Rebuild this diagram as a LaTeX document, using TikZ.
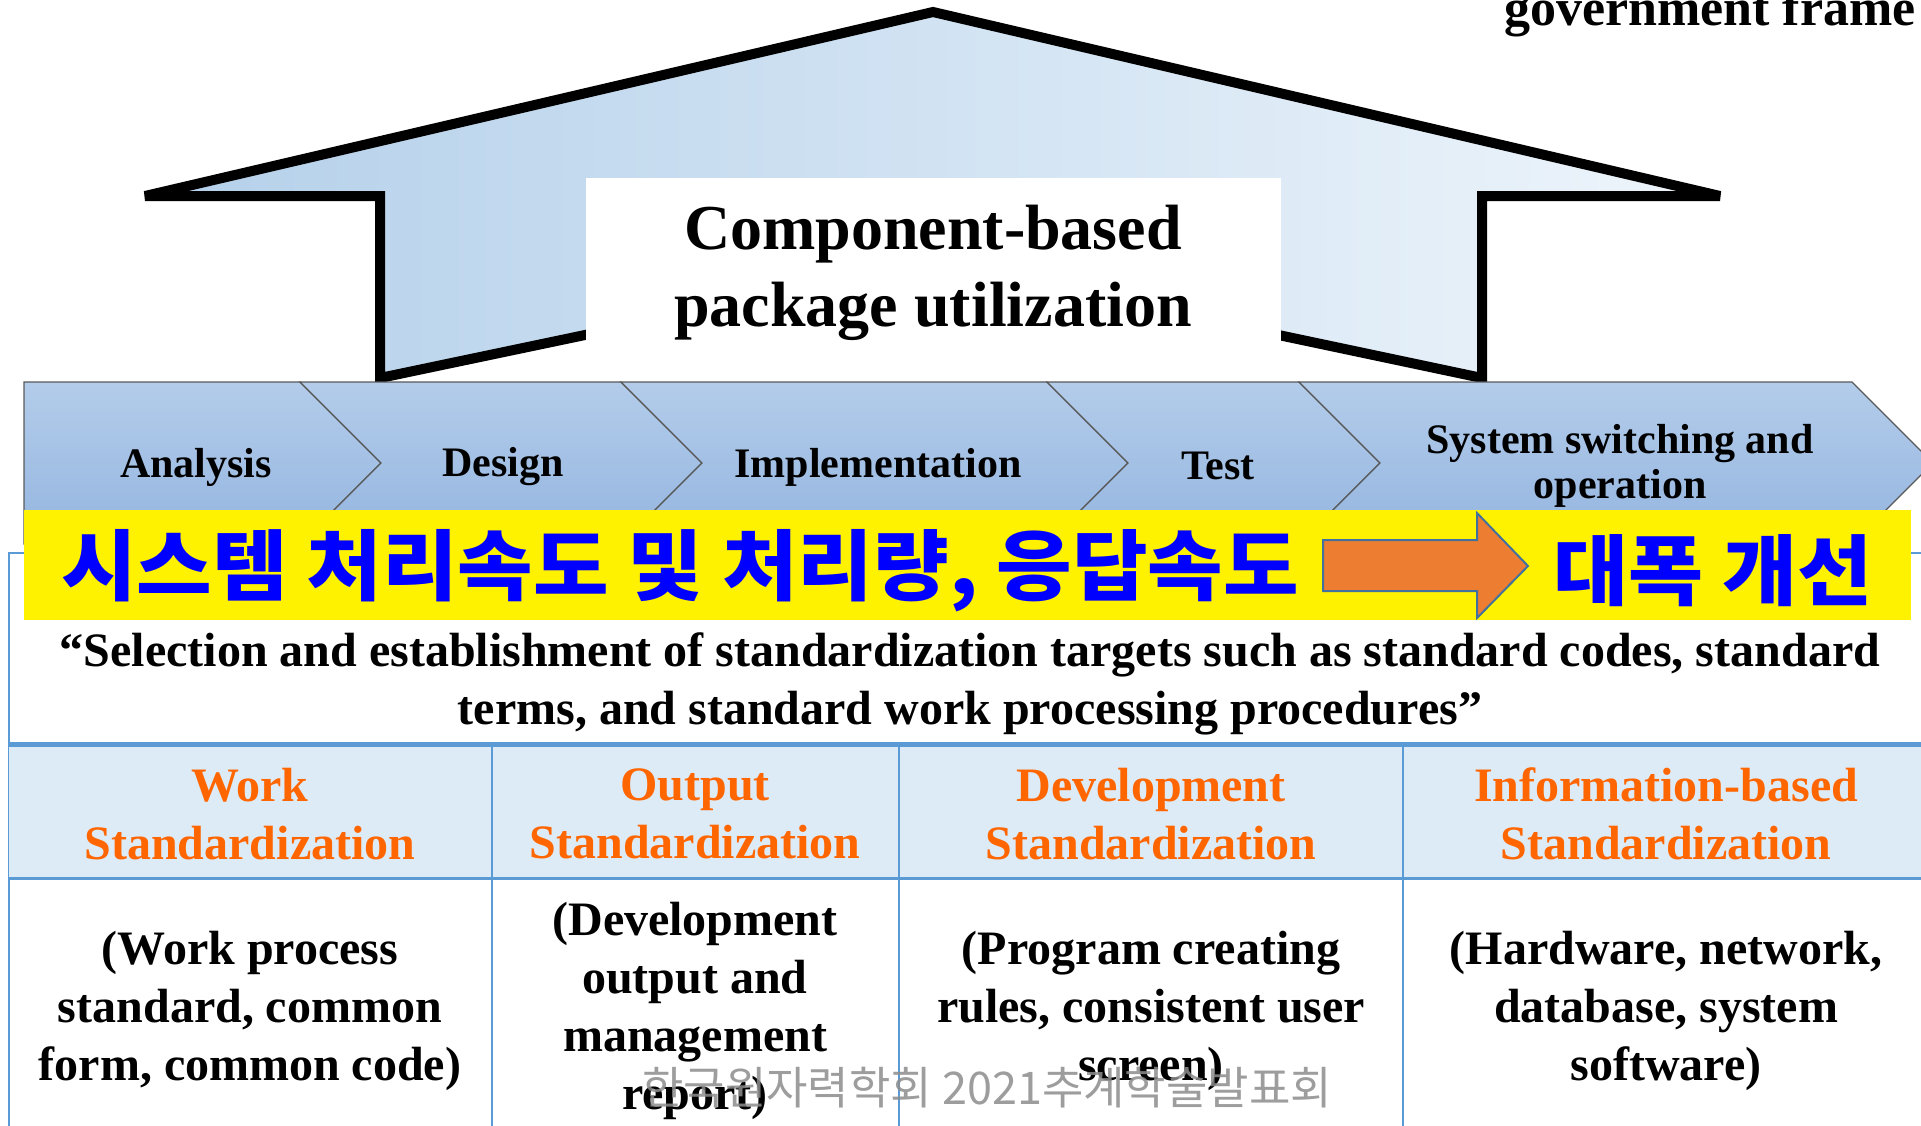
\documentclass[tikz,border=0pt]{standalone}
\usepackage{fontspec}
\usepackage{graphicx}
\setmainfont{Liberation Serif}
\newfontfamily\krfont{Noto Sans CJK KR}
\usetikzlibrary{positioning,calc}
\definecolor{arrowleft}{HTML}{B4D0EA}
\definecolor{arrowright}{HTML}{EEF5FB}
\definecolor{chevtop}{HTML}{B3CCEA}
\definecolor{chevbottom}{HTML}{94B5E0}
\definecolor{tableblue}{HTML}{5B9BD5}
\definecolor{headfill}{HTML}{DDEBF7}
\definecolor{headorange}{HTML}{FF6600}
\definecolor{bannerorange}{HTML}{ED7D31}
\definecolor{banneredge}{HTML}{41719C}

\begin{document}
\begin{tikzpicture}[x=1pt, y=-1pt,
    chevron/.style = {top color=chevtop, bottom color=chevbottom, draw=black!65, line width=1.2pt},
    steplabel/.style = {font=\bfseries\fontsize{42}{45}\selectfont, align=center, inner sep=0pt},
    headtext/.style = {text=headorange, font=\bfseries\fontsize{48}{58}\selectfont, align=center, inner sep=0pt},
    bodytext/.style = {font=\bfseries\fontsize{48}{58}\selectfont, align=center, inner sep=0pt},
    tableline/.style = {tableblue, line width=2pt},
    bannertext/.style = {text=blue, font=\krfont\bfseries\fontsize{77}{80}\selectfont, inner sep=0pt}]
  \useasboundingbox (0,0) rectangle (1921,1125);
  \clip (0,0) rectangle (1921,1125);

  % big upward arrow behind the title
  \draw [black, line width=10pt, miter limit=4, left color=arrowleft, right color=arrowright]
    (933,12) -- (1720,196) -- (1482,196) -- (1482,378) -- (933,262) -- (380,378) -- (380,196) -- (145,196) -- cycle;
  \fill [white] (586,178) rectangle (1281,382);
  \node [font=\bfseries\fontsize{64}{77}\selectfont, align=center] (title) at (933,273) {Component-based\\package utilization};
  \node [font=\bfseries\fontsize{52}{60}\selectfont, anchor=base west, inner sep=0pt] (govt) at (1504,25) {government frame};

  % table frame
  \draw [tableline] (9,553) rectangle (1935,1140);
  \fill [headfill] (9,744) rectangle (1935,878);
  \draw [tableblue, line width=5pt] (9,744) -- (1935,744);
  \draw [tableline, line width=3pt] (9,878) -- (1935,878);
  \draw [tableline] (492,744) -- (492,1130);
  \draw [tableline] (899,744) -- (899,1130);
  \draw [tableline] (1403,744) -- (1403,1130);

  % process chevrons
  \draw [chevron] (24,382) -- (300,382) -- (381,463) -- (300,544) -- (24,544) -- cycle;
  \draw [chevron] (300,382) -- (621,382) -- (702,463) -- (621,544) -- (300,544) -- (381,463) -- cycle;
  \draw [chevron] (621,382) -- (1047,382) -- (1128,463) -- (1047,544) -- (621,544) -- (702,463) -- cycle;
  \draw [chevron] (1047,382) -- (1299,382) -- (1380,463) -- (1299,544) -- (1047,544) -- (1128,463) -- cycle;
  \draw [chevron] (1299,382) -- (1852,382) -- (1933,463) -- (1852,544) -- (1299,544) -- (1380,463) -- cycle;
  \node [steplabel] (analysis) at (196,467) {Analysis};
  \node [steplabel] (design) at (503,467) {Design};
  \node [steplabel] (implement) at (878,467) {Implementation};
  \node [steplabel] (test) at (1218,466) {Test};
  \node [steplabel] (switching) at (1620,466) {System switching and\\operation};

  % yellow banner
  \fill [yellow] (24,510) rectangle (1911,620);
  \node [bannertext, anchor=west] (slow) at (61,571) {\scalebox{1.067}[1]{시스템 처리속도 및 처리량, 응답속도}};
  \filldraw [fill=bannerorange, draw=banneredge, line width=2pt]
    (1323,540) -- (1477,540) -- (1477,513) -- (1528,566) -- (1477,618) -- (1477,591) -- (1323,591) -- cycle;
  \node [bannertext, anchor=west] (gain) at (1553,571) {\scalebox{1.06}[1]{대폭 개선}};

  % standardization table
  \node [bodytext] (quote) at (970,684) {“Selection and establishment of standardization targets such as standard codes, standard\\terms, and standard work processing procedures”};
  \node [headtext] (workhead) at (250,814) {Work\\Standardization};
  \node [headtext] (outhead) at (695,814) {Output\\Standardization};
  \node [headtext] (devhead) at (1151,814) {Development\\Standardization};
  \node [headtext] (infohead) at (1666,814) {Information-based\\Standardization};
  \node [bodytext] (workbody) at (250,1011) {(Work process\\standard, common\\form, common code)};
  \node [bodytext] (outbody) at (695,1011) {(Development\\output and\\management\\report)};
  \node [bodytext] (devbody) at (1151,1011) {(Program creating\\rules, consistent user\\screen)};
  \node [bodytext] (infobody) at (1666,1011) {(Hardware, network,\\database, system\\software)};

  \node [font=\krfont\fontsize{45}{50}\selectfont, text=black!45, opacity=0.85] (mark) at (987,1088) {한국원자력학회 2021추계학술발표회};
\end{tikzpicture}
\end{document}
